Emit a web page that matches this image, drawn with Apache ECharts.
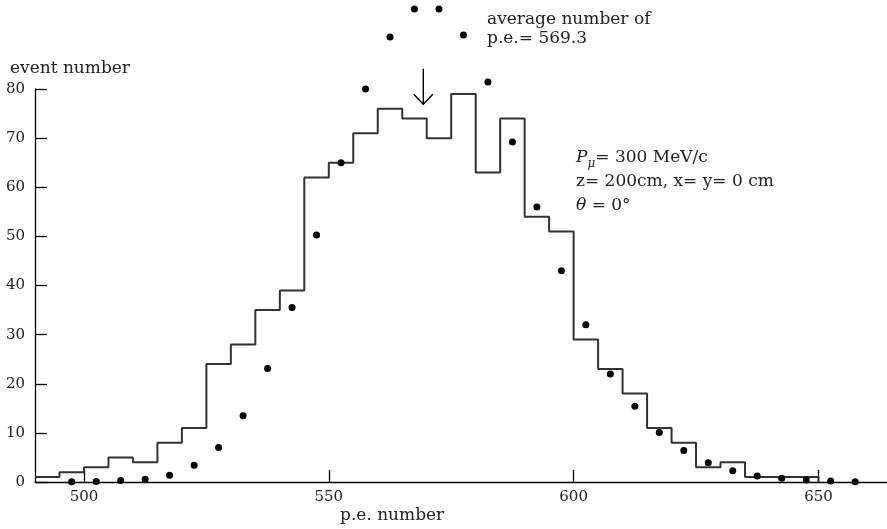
<!DOCTYPE html>
<html>
<head>
<meta charset="utf-8">
<script src="https://cdn.jsdelivr.net/npm/echarts@6/dist/echarts.min.js"></script>
<style>
html,body{margin:0;padding:0;background:#fff;}
#c{width:887px;height:529px;}
</style>
</head>
<body>
<div id="c"></div>
<script>
// Histogram: bins of width 5 starting at 490
const binStart = 490;
const binWidth = 5;
const histCounts = [1, 2, 3, 5, 4, 8, 11, 24, 28, 35, 39, 62, 65, 71, 76, 74, 70, 79, 63, 74, 54, 51, 29, 23, 18, 11, 8, 3, 4, 1, 1, 1];

// Dots (prediction)
const dotX = [497.5, 502.5, 507.5, 512.5, 517.5, 522.5, 527.5, 532.5, 537.5, 542.5,
              547.5, 552.5, 557.5, 562.5, 567.5, 572.5, 577.5, 582.5, 587.5, 592.5,
              597.5, 602.5, 607.5, 612.5, 617.5, 622.5, 627.5, 632.5, 637.5, 642.5,
              647.5, 652.5, 657.5];
const dotY = [0.05, 0.1, 0.3, 0.55, 1.35, 3.4, 7.0, 13.5, 23.1, 35.5,
              50.3, 65.0, 80.0, 90.6, 96.3, 96.3, 91.0, 81.4, 69.2, 56.0,
              43.0, 32.0, 22.0, 15.4, 10.1, 6.4, 3.9, 2.3, 1.2, 0.74,
              0.4, 0.2, 0.06];

// Average arrow
const meanPE = 569.3;
const arrowTop = 84.1;
const arrowTip = 76.9;

// Ticks
const xTicks = [500, 550, 600, 650];
const yTicks = [0, 10, 20, 30, 40, 50, 60, 70, 80];

const histData = histCounts.map((c, i) => [binStart + i * binWidth, c]);
histData.push([binStart + histCounts.length * binWidth, 0]);

const FONT = 'DejaVu Serif';

const chart = echarts.init(document.getElementById('c'));
chart.setOption({
  backgroundColor: '#fff',
  animation: false,
  grid: { left: 35, top: 89, width: 855, height: 393 },
  xAxis: {
    type: 'value', min: 490, max: 664,
    axisLine: { lineStyle: { color: '#000', width: 1.3 } },
    axisTick: { inside: true, length: 12, lineStyle: { color: '#000', width: 1.3 }, customValues: xTicks },
    axisLabel: { color: '#222', fontFamily: FONT, fontSize: 15, margin: 8, customValues: xTicks },
    splitLine: { show: false }
  },
  yAxis: {
    type: 'value', min: 0, max: 80, interval: 10,
    axisLine: { show: true, lineStyle: { color: '#000', width: 1.3 } },
    axisTick: { show: true, inside: true, length: 12, lineStyle: { color: '#000', width: 1.3 }, customValues: yTicks },
    axisLabel: { color: '#222', fontFamily: FONT, fontSize: 15, margin: 10, customValues: yTicks },
    splitLine: { show: false }
  },
  series: [
    {
      type: 'line', step: 'end', data: histData, showSymbol: false,
      lineStyle: { color: '#333', width: 2 }, z: 2
    },
    {
      type: 'scatter', data: dotX.map((x, i) => [x, dotY[i]]),
      symbolSize: 7, itemStyle: { color: '#000', opacity: 1 }, clip: false, z: 3
    },
    {
      type: 'custom', clip: false, data: [[meanPE, arrowTop, arrowTip]],
      renderItem: function (params, api) {
        const a = api.coord([api.value(0), api.value(1)]);
        const b = api.coord([api.value(0), api.value(2)]);
        return {
          type: 'group',
          children: [
            { type: 'line', shape: { x1: a[0], y1: a[1], x2: b[0], y2: b[1] }, style: { stroke: '#000', lineWidth: 1.4 } },
            { type: 'polyline', shape: { points: [[b[0] - 9.5, b[1] - 10], [b[0], b[1]], [b[0] + 9.5, b[1] - 10]] }, style: { stroke: '#000', fill: null, lineWidth: 1.4 } }
          ]
        };
      }
    }
  ],
  graphic: [
    { type: 'text', left: 10, top: 60, style: { text: 'event number', font: '17px "DejaVu Serif"', fill: '#222' } },
    { type: 'text', left: 340, top: 507, style: { text: 'p.e. number', font: '17px "DejaVu Serif"', fill: '#222' } },
    { type: 'text', left: 487, top: 10, style: { text: 'average number of\np.e.= 569.3', font: '17px "DejaVu Serif"', fill: '#222', lineHeight: 19 } },
    { type: 'text', left: 576, top: 148, style: {
        text: '{i|P}{sub|μ}{n|= 300 MeV/c}\n{n|z= 200cm, x= y= 0 cm}\n{i|θ}{n| = 0°}',
        rich: {
          n: { fontFamily: FONT, fontSize: 17, fill: '#222', lineHeight: 24 },
          i: { fontFamily: FONT, fontStyle: 'italic', fontSize: 17, fill: '#222', lineHeight: 24 },
          sub: { fontFamily: FONT, fontStyle: 'italic', fontSize: 12, fill: '#222', lineHeight: 24, verticalAlign: 'bottom', padding: [10, 0, 0, 0] }
        }
    } }
  ]
});
</script>
</body>
</html>
